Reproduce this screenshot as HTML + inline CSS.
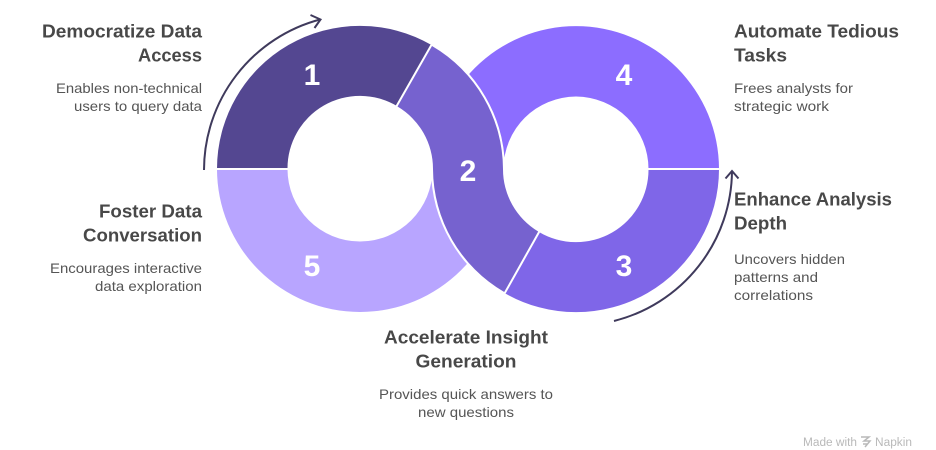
<!DOCTYPE html>
<html>
<head>
<meta charset="utf-8">
<style>
html,body{margin:0;padding:0;background:#fff;width:936px;height:450px;overflow:hidden}
svg{display:block}
text{font-family:"Liberation Sans",sans-serif}
.h{font-size:18px;font-weight:700;fill:#484848}
.d{font-size:14px;fill:#555}
.n{font-size:30px;font-weight:700;fill:#fff;text-anchor:middle}
.e{text-anchor:end}
.m{text-anchor:middle}
</style>
</head>
<body>
<svg width="936" height="450" viewBox="0 0 936 450" xmlns="http://www.w3.org/2000/svg">
<!-- segment 4 -->
<path d="M719 169 A143 143 0 0 0 433 169 L503.500 169 A72.500 72.500 0 0 1 648.500 169 Z" fill="#8c6dff"/>
<!-- segment 5 -->
<path d="M217 169 A143 143 0 0 0 503 169 L432.500 169 A72.500 72.500 0 0 1 287.500 169 Z" fill="#b8a5ff"/>
<!-- segment 1 -->
<path d="M217 169 A143 143 0 0 1 431.500 45 L397 106 A72.500 72.500 0 0 0 287.500 169 Z" fill="#544791"/>
<!-- segment 3 -->
<path d="M719 169 A143 143 0 0 1 504.500 293 L539 232 A72.500 72.500 0 0 0 648.500 169 Z" fill="#7f66e8"/>
<!-- separators -->
<path d="M216 169 H288 M648 169 H720" stroke="#fff" stroke-width="2"/>
<!-- segment 2 -->
<path d="M432 46 A143 143 0 0 1 503 169 A72.500 72.500 0 0 0 538.200 231.500 L504.200 292 A143 143 0 0 1 433 169 A72.500 72.500 0 0 0 397.500 106.500 Z" fill="#7662cf" stroke="#fff" stroke-width="4" stroke-linejoin="round" paint-order="stroke"/>
<!-- arrows -->
<path d="M204 170 A156 156 0 0 1 320 19.500" fill="none" stroke="#3f3a5c" stroke-width="2"/>
<path d="M310.500 15 L320.500 19.500 L314.500 28" fill="none" stroke="#3f3a5c" stroke-width="2"/>
<path d="M614 321 A156 156 0 0 0 732 171" fill="none" stroke="#3f3a5c" stroke-width="2"/>
<path d="M725.500 178.500 L732 171 L738.500 178.500" fill="none" stroke="#3f3a5c" stroke-width="2"/>
<!-- numbers -->
<text class="n" x="312" y="85">1</text>
<text class="n" x="468" y="181">2</text>
<text class="n" x="624" y="276">3</text>
<text class="n" x="624" y="85">4</text>
<text class="n" x="312" y="276">5</text>
<!-- labels -->
<text class="h e" x="202" y="37.500" textLength="160" lengthAdjust="spacingAndGlyphs">Democratize Data</text>
<text class="h e" x="202" y="61.500" textLength="64" lengthAdjust="spacingAndGlyphs">Access</text>
<text class="d e" x="202" y="93" textLength="146" lengthAdjust="spacingAndGlyphs">Enables non-technical</text>
<text class="d e" x="202" y="111" textLength="128" lengthAdjust="spacingAndGlyphs">users to query data</text>
<text class="h e" x="202" y="217.500" textLength="103" lengthAdjust="spacingAndGlyphs">Foster Data</text>
<text class="h e" x="202" y="241.500" textLength="119" lengthAdjust="spacingAndGlyphs">Conversation</text>
<text class="d e" x="202" y="273" textLength="152" lengthAdjust="spacingAndGlyphs">Encourages interactive</text>
<text class="d e" x="202" y="291" textLength="107" lengthAdjust="spacingAndGlyphs">data exploration</text>
<text class="h" x="734" y="37.500" textLength="165" lengthAdjust="spacingAndGlyphs">Automate Tedious</text>
<text class="h" x="734" y="61.500" textLength="53" lengthAdjust="spacingAndGlyphs">Tasks</text>
<text class="d" x="734" y="93" textLength="119" lengthAdjust="spacingAndGlyphs">Frees analysts for</text>
<text class="d" x="734" y="111" textLength="95" lengthAdjust="spacingAndGlyphs">strategic work</text>
<text class="h" x="734" y="205.500" textLength="158" lengthAdjust="spacingAndGlyphs">Enhance Analysis</text>
<text class="h" x="734" y="229.500" textLength="53" lengthAdjust="spacingAndGlyphs">Depth</text>
<text class="d" x="734" y="264" textLength="111" lengthAdjust="spacingAndGlyphs">Uncovers hidden</text>
<text class="d" x="734" y="282" textLength="84" lengthAdjust="spacingAndGlyphs">patterns and</text>
<text class="d" x="734" y="300" textLength="79" lengthAdjust="spacingAndGlyphs">correlations</text>
<text class="h m" x="466" y="343.500" textLength="164" lengthAdjust="spacingAndGlyphs">Accelerate Insight</text>
<text class="h m" x="466" y="367.500" textLength="101" lengthAdjust="spacingAndGlyphs">Generation</text>
<text class="d m" x="466" y="399" textLength="174" lengthAdjust="spacingAndGlyphs">Provides quick answers to</text>
<text class="d m" x="466" y="417" textLength="96" lengthAdjust="spacingAndGlyphs">new questions</text>
<!-- watermark -->
<text x="803" y="446" font-size="11.500" fill="#b9b9b9" textLength="54" lengthAdjust="spacingAndGlyphs">Made with</text>
<path d="M861 437 H869 L864 441 H870 L865 447 M863 444 H867" fill="none" stroke="#b9b9b9" stroke-width="1.500"/>
<text x="875" y="446" font-size="11.500" fill="#b9b9b9" textLength="37" lengthAdjust="spacingAndGlyphs">Napkin</text>
</svg>
</body>
</html>
